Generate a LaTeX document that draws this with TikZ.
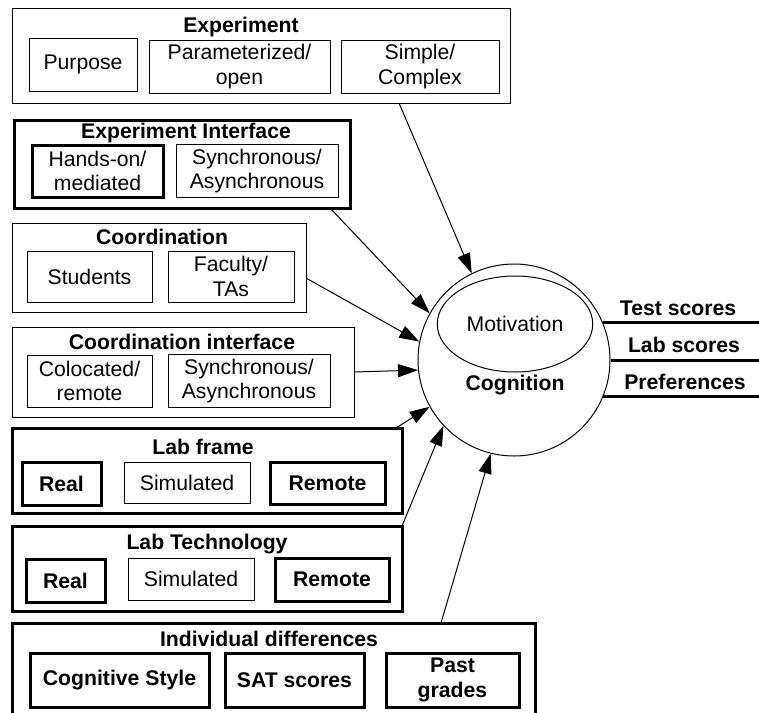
\documentclass[tikz,border=0pt]{standalone}
\usepackage{fontspec}
\setmainfont{Liberation Sans}
\usetikzlibrary{shapes.geometric,arrows.meta}

\begin{document}
\begin{tikzpicture}[x=0.5pt, y=-0.5pt,
	every node/.style={font=\fontsize{10.6}{12.2}\selectfont, align=center},
	grp/.style={draw, line width=0.5pt},
	grpbold/.style={draw, line width=1.5pt},
	item/.style={draw, line width=0.5pt, inner sep=2pt},
	itembold/.style={draw, line width=1.5pt, inner sep=2pt},
	bf/.style={font=\fontsize{10.6}{12.2}\selectfont\bfseries},
	link/.style={line width=0.5pt, -{Triangle[length=10pt,width=6.5pt]}},
	outline/.style={line width=1.5pt}]
		\useasboundingbox (0,0) rectangle (759,712);
		% groups
		\node[grp, minimum width=249pt, minimum height=47.5pt] (exp) at (261,55.5) {};
		\node[grpbold, minimum width=168pt, minimum height=44pt] (expif) at (182,164) {};
		\node[grp, minimum width=147pt, minimum height=44.5pt] (coord) at (159,267.5) {};
		\node[grp, minimum width=171pt, minimum height=45pt] (coordif) at (183,372) {};
		\node[grpbold, minimum width=195pt, minimum height=42.5pt] (labframe) at (207,470.5) {};
		\node[grpbold, minimum width=195pt, minimum height=42.5pt] (labtech) at (207,568.5) {};
		\node[grpbold, minimum width=261.5pt, minimum height=45.5pt] (indiv) at (273.5,668.5) {};
		% titles
		\node[bf] (exptitle) at (241,27) {Experiment};
		\node[bf] (expiftitle) at (186,133) {Experiment Interface};
		\node[bf] (coordtitle) at (162,237) {Coordination};
		\node[bf] (coordiftitle) at (182,342) {Coordination interface};
		\node[bf] (labframetitle) at (203,447) {Lab frame};
		\node[bf] (labtechtitle) at (207,544) {Lab Technology};
		\node[bf] (indivtitle) at (269,639) {Individual differences};
		% items
		\node[item, minimum width=54pt, minimum height=26.5pt] (purpose) at (83,64.5) {Purpose};
		\node[item, minimum width=90.5pt, minimum height=26.5pt] (param) at (239.5,66.5) {Parameterized/\\open};
		\node[item, minimum width=79pt, minimum height=26.5pt] (simple) at (420,66.5) {Simple/\\Complex};
		\node[itembold, minimum width=65.5pt, minimum height=26pt] (handson) at (97.5,171) {Hands-on/\\mediated};
		\node[item, minimum width=81pt, minimum height=26pt] (expsync) at (257,171) {Synchronous/\\Asynchronous};
		\node[item, minimum width=62.5pt, minimum height=25.5pt] (students) at (89.5,276.5) {Students};
		\node[item, minimum width=63pt, minimum height=25.5pt] (faculty) at (231,276.5) {Faculty/\\TAs};
		\node[item, minimum width=62.5pt, minimum height=26pt] (colocated) at (89.5,381) {Colocated/\\remote};
		\node[item, minimum width=81pt, minimum height=26pt] (coordsync) at (249,381) {Synchronous/\\Asynchronous};
		\node[itembold, bf, minimum width=39.5pt, minimum height=21.5pt] (lfreal) at (61.5,483.5) {Real};
		\node[item, minimum width=63pt, minimum height=20.5pt] (lfsim) at (187,482.5) {Simulated};
		\node[itembold, bf, minimum width=57.5pt, minimum height=21pt] (lfremote) at (327.5,483) {Remote};
		\node[itembold, bf, minimum width=39.5pt, minimum height=21.5pt] (ltreal) at (65.5,580.5) {Real};
		\node[item, minimum width=63pt, minimum height=21pt] (ltsim) at (191,579) {Simulated};
		\node[itembold, bf, minimum width=57pt, minimum height=21.5pt] (ltremote) at (332,579.5) {Remote};
		\node[itembold, bf, minimum width=89.5pt, minimum height=27pt] (cogstyle) at (119.5,680) {Cognitive Style};
		\node[itembold, bf, minimum width=69.5pt, minimum height=27pt] (sat) at (294.5,680) {SAT scores};
		\node[itembold, bf, minimum width=66.5pt, minimum height=27pt] (past) at (452.5,680) {Past\\grades};
		% learner
		\node[draw, circle, line width=0.5pt, minimum size=96pt] (cog) at (514,360) {};
		\node[draw, ellipse, line width=0.5pt, minimum width=72pt, minimum height=48pt] (motiv) at (515,324) {Motivation};
		\node[bf] (cogtext) at (515,385) {Cognition};
		% outcomes
		\coordinate (rim) at (759,360);
		\draw[outline] (cog.23.3) -- (cog.23.3 -| rim);
		\draw[outline] (cog.0) -- (rim);
		\draw[outline] (cog.-22.7) -- (cog.-22.7 -| rim);
		\node[bf] (test) at (678,308) {Test scores};
		\node[bf] (labscores) at (684,345) {Lab scores};
		\node[bf] (prefs) at (685,382) {Preferences};
		% influences
		\coordinate (expout) at (399,103);
		\coordinate (expifout) at (330,208);
		\coordinate (coordout) at (306,278);
		\coordinate (coordifout) at (354,372);
		\coordinate (labframeout) at (396,428);
		\coordinate (labtechout) at (402,526);
		\coordinate (indivout) at (441,623);
		\draw[link] (expout) -- (cog.116);
		\draw[link] (expifout) -- (cog.151);
		\draw[link] (coordout) -- (cog.169);
		\draw[link] (coordifout) -- (cog.186);
		\draw[link] (labframeout) -- (cog.209);
		\draw[link] (labtechout) -- (cog.223);
		\draw[link] (indivout) -- (cog.256);
	\end{tikzpicture}
\end{document}
